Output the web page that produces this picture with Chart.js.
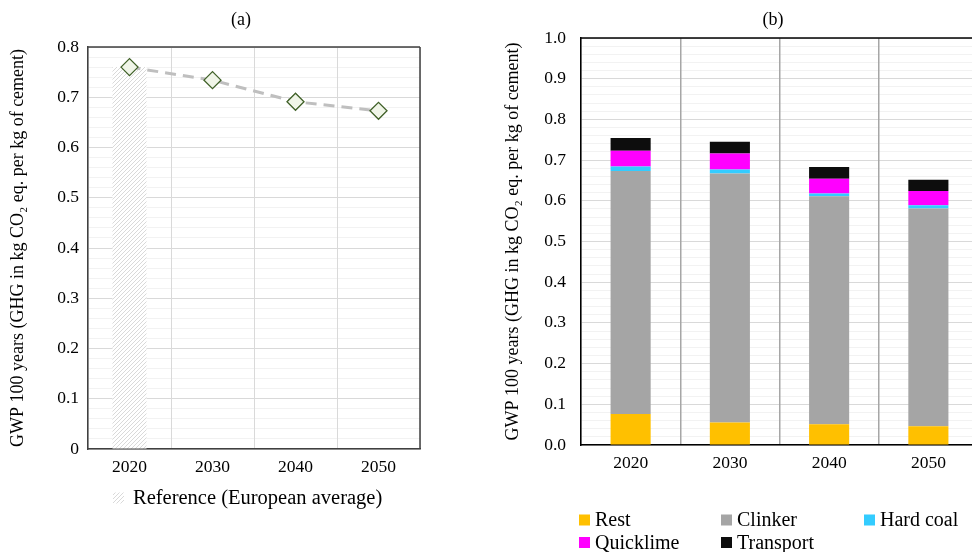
<!DOCTYPE html>
<html><head><meta charset="utf-8">
<script src="https://cdn.jsdelivr.net/npm/chart.js@4.4.1/dist/chart.umd.min.js"></script>
<style>
html,body{margin:0;padding:0;width:972px;height:552px;overflow:hidden;background:#fff;}
#ca{position:absolute;left:0;top:0;}
#cb{position:absolute;left:490px;top:0;}
</style></head><body>
<canvas id="ca" width="440" height="552"></canvas>
<canvas id="cb" width="500" height="552"></canvas>
<script>
// ---------- data ----------
const years = ['2020', '2030', '2040', '2050'];
const referenceLabel = 'Reference (European average)';
const referenceValues = [0.760, null, null, null];
const scenarioValues = [0.760, 0.734, 0.691, 0.673];
const yTickLabelsA = ['0', '0.1', '0.2', '0.3', '0.4', '0.5', '0.6', '0.7', '0.8'];

const seriesNames = ['Rest', 'Clinker', 'Hard coal', 'Quicklime', 'Transport'];
const rest      = [0.076, 0.055, 0.051, 0.046];
const clinker   = [0.597, 0.612, 0.560, 0.535];
const hardCoal  = [0.011, 0.010, 0.007, 0.008];
const quicklime = [0.039, 0.039, 0.036, 0.035];
const transport = [0.031, 0.029, 0.029, 0.028];
const yTickLabelsB = ['0.0', '0.1', '0.2', '0.3', '0.4', '0.5', '0.6', '0.7', '0.8', '0.9', '1.0'];

const yTitle = 'GWP 100 years (GHG in kg CO\u2082 eq. per kg of cement)';

// ---------- styling helpers ----------
const SERIF = "'Liberation Serif', 'Times New Roman', serif";
Chart.defaults.color = '#000';
Chart.defaults.font.family = SERIF;
const f = (size) => ({ family: SERIF, size: size });

function makeHatch() {
  const c = document.createElement('canvas');
  c.width = 4; c.height = 4;
  const g = c.getContext('2d');
  g.fillStyle = '#ffffff'; g.fillRect(0, 0, 4, 4);
  g.strokeStyle = '#d9d9d9'; g.lineWidth = 1;
  g.beginPath();
  g.moveTo(0, 4); g.lineTo(4, 0);
  g.moveTo(-1, 1); g.lineTo(1, -1);
  g.moveTo(3, 5); g.lineTo(5, 3);
  g.stroke();
  return g.createPattern(c, 'repeat');
}

const panelTitle = {
  id: 'panelTitle',
  afterDraw(chart, args, o) {
    const ctx = chart.ctx; ctx.save();
    ctx.font = o.size + 'px ' + SERIF; ctx.fillStyle = '#000';
    ctx.textAlign = 'center'; ctx.textBaseline = 'middle';
    ctx.fillText(o.text, o.x, o.y);
    ctx.restore();
  }
};
const frame = {
  id: 'frame',
  afterDraw(chart, args, o) {
    const a = chart.chartArea, ctx = chart.ctx; ctx.save();
    ctx.strokeStyle = o.color; ctx.lineWidth = o.width;
    ctx.beginPath();
    if (o.top) { ctx.moveTo(a.left, a.top); ctx.lineTo(a.right, a.top); }
    if (o.right) { ctx.moveTo(a.right, a.top); ctx.lineTo(a.right, a.bottom); }
    ctx.stroke(); ctx.restore();
  }
};
const gridLegend = {
  id: 'gridLegend',
  afterDraw(chart, args, o) {
    const ctx = chart.ctx; ctx.save();
    ctx.font = o.size + 'px ' + SERIF; ctx.textBaseline = 'alphabetic'; ctx.textAlign = 'left';
    const cols = o.cols, rows = o.rows;
    o.order.forEach((dsIndex, i) => {
      const ds = chart.data.datasets[dsIndex];
      const x = cols[i % cols.length], y = rows[Math.floor(i / cols.length)];
      ctx.fillStyle = ds.backgroundColor;
      ctx.fillRect(x, y - o.box - 0.5, o.box, o.box);
      ctx.fillStyle = '#000';
      ctx.fillText(ds.label, x + o.box + o.gap, y);
    });
    ctx.restore();
  }
};

function gridColor(c) { return c.index % 5 === 0 ? '#d9d9d9' : '#f2f2f2'; }

// ---------- chart (a) ----------
new Chart(document.getElementById('ca'), {
  data: {
    labels: years,
    datasets: [
      {
        type: 'line', label: 'Scenario', data: scenarioValues, order: 0,
        borderColor: '#bfbfbf', borderWidth: 3, borderDash: [11, 7],
        pointStyle: 'rectRot', pointRadius: 8.5, pointBorderColor: '#3f6027',
        pointBackgroundColor: '#f0f5e8', pointBorderWidth: 1.3, tension: 0
      },
      {
        type: 'bar', label: referenceLabel, data: referenceValues, order: 1,
        backgroundColor: makeHatch(), borderWidth: 0,
        barPercentage: 0.41, categoryPercentage: 1
      }
    ]
  },
  options: {
    responsive: false, animation: false, devicePixelRatio: 1,
    layout: { padding: { left: 0, right: 20, top: 47, bottom: 63 } },
    plugins: {
      legend: { display: false }, tooltip: { enabled: false }, title: { display: false },
      panelTitle: { text: '(a)', x: 241, y: 20, size: 18 },
      frame: { color: '#404040', width: 1.5, top: true, right: true },
      gridLegend: { order: [1], cols: [113], rows: [504], box: 11, gap: 9, size: 20.5 }
    },
    scales: {
      x: {
        offset: true,
        grid: { offset: true, color: '#d9d9d9', drawTicks: false, z: 0 },
        border: { color: '#404040', width: 1.5 },
        ticks: { font: f(17.5), padding: 8 },
        afterFit(s) { s.height = 40; }
      },
      y: {
        min: 0, max: 0.8,
        grid: { color: gridColor, drawTicks: false },
        border: { color: '#404040', width: 1.5 },
        ticks: {
          stepSize: 0.02, autoSkip: false, font: f(17.5), padding: 9,
          callback: (v, i) => (i % 5 === 0 ? yTickLabelsA[i / 5] : '')
        },
        title: { display: true, text: yTitle, font: f(18), padding: { top: 7, bottom: 0 } },
        afterFit(s) { s.width = 88; }
      }
    }
  },
  plugins: [panelTitle, frame, gridLegend]
});

// ---------- chart (b) ----------
const colorsB = ['#ffc000', '#a5a5a5', '#33ccff', '#ff00ff', '#0d0d0d'];
const valuesB = [rest, clinker, hardCoal, quicklime, transport];
new Chart(document.getElementById('cb'), {
  type: 'bar',
  data: {
    labels: years,
    datasets: seriesNames.map((n, i) => ({
      label: n, data: valuesB[i], backgroundColor: colorsB[i], borderWidth: 0,
      barPercentage: 0.404, categoryPercentage: 1
    }))
  },
  options: {
    responsive: false, animation: false, devicePixelRatio: 1,
    layout: { padding: { left: 0, right: 12, top: 38, bottom: 72 } },
    plugins: {
      legend: { display: false }, tooltip: { enabled: false }, title: { display: false },
      panelTitle: { text: '(b)', x: 283, y: 20, size: 18 },
      frame: { color: '#000', width: 1.5, top: true, right: false },
      gridLegend: { order: [0, 1, 2, 3, 4], cols: [89, 231, 374], rows: [526, 548.5], box: 11, gap: 5, size: 20 }
    },
    scales: {
      x: {
        stacked: true,
        grid: { offset: true, color: '#a6a6a6', lineWidth: 1.5, drawTicks: false, z: 0 },
        border: { color: '#000', width: 1.5 },
        ticks: { font: f(17.5), padding: 8 },
        afterFit(s) { s.height = 35; }
      },
      y: {
        stacked: true, min: 0, max: 1.0,
        grid: { color: gridColor, drawTicks: false },
        border: { color: '#000', width: 1.5 },
        ticks: {
          stepSize: 0.02, autoSkip: false, font: f(17.5), padding: 15,
          callback: (v, i) => (i % 5 === 0 ? yTickLabelsB[i / 5] : '')
        },
        title: { display: true, text: yTitle, font: f(18), padding: { top: 12, bottom: 0 } },
        afterFit(s) { s.width = 91; }
      }
    }
  },
  plugins: [panelTitle, frame, gridLegend]
});
</script>
</body></html>
